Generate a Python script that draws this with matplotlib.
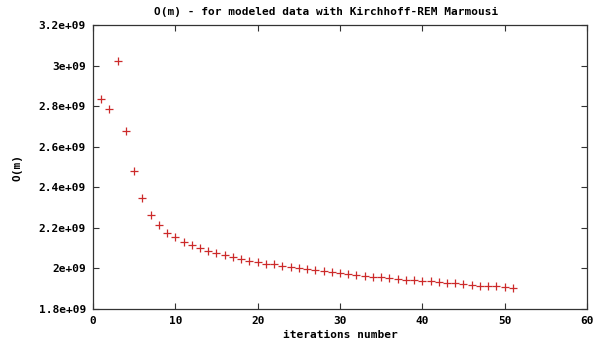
import numpy as np
import matplotlib.pyplot as plt
from matplotlib.ticker import FuncFormatter

# iteration index and objective value O(m)
iterations = list(range(1, 52))
objective = [2.835, 2.786, 3.022, 2.677, 2.480, 2.347, 2.265, 2.212, 2.177, 2.153,
             2.130, 2.114, 2.099, 2.086, 2.075, 2.065, 2.055, 2.047, 2.038, 2.030,
             2.024, 2.020, 2.013, 2.007, 2.002, 1.996, 1.991, 1.986, 1.982, 1.978,
             1.972, 1.968, 1.963, 1.959, 1.956, 1.951, 1.948, 1.944, 1.942, 1.940,
             1.937, 1.933, 1.930, 1.926, 1.922, 1.918, 1.915, 1.914, 1.911, 1.907,
             1.904]
objective = np.array(objective) * 1e9

plt.rcParams['font.family'] = 'DejaVu Sans Mono'
plt.rcParams['font.weight'] = 'bold'
plt.rcParams['font.size'] = 8

fig = plt.figure(figsize=(6.05, 3.43), dpi=100)
ax = fig.add_axes([0.1537, 0.0991, 0.8165, 0.8280])

ax.plot(iterations, objective, linestyle='none', marker='+', color='#cc2a2a',
        markersize=6, markeredgewidth=0.9)

ax.set_xlim(0, 60)
ax.set_ylim(1.8e9, 3.2e9)
ax.set_xticks(np.arange(0, 61, 10))
ax.set_yticks(np.arange(1.8e9, 3.21e9, 0.2e9))


def gp_fmt(v, pos):
    m, e = ('%.1e' % v).split('e')
    m = m.rstrip('0').rstrip('.')
    return '%se+%02d' % (m, int(e))


ax.yaxis.set_major_formatter(FuncFormatter(gp_fmt))
ax.tick_params(direction='in', length=4, width=0.8, top=True, right=True,
               labelsize=8, pad=5, color='#333333')
for sp in ax.spines.values():
    sp.set_linewidth(0.9)
    sp.set_color('#333333')

fig.text(326 / 605, 1 - 12 / 343, 'O(m) - for modeled data with Kirchhoff-REM Marmousi',
         ha='center', va='center', fontsize=8, fontweight='bold')
ax.set_xlabel('iterations number', fontsize=8, fontweight='bold', labelpad=3)
ax.set_ylabel('O(m)', fontsize=8, fontweight='bold', labelpad=12)

fig.savefig('out.png', dpi=100)
